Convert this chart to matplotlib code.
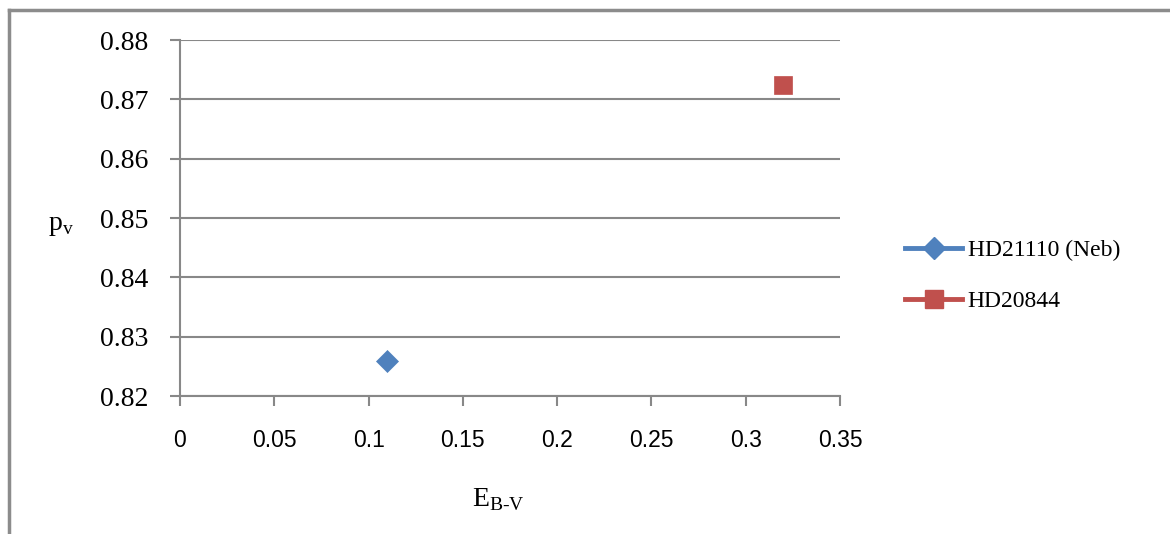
import matplotlib
matplotlib.use('Agg')
import matplotlib.pyplot as plt
from matplotlib.lines import Line2D

# reddening vs polarisation efficiency for the two stars
names = ['HD21110 (Neb)', 'HD20844']
ebv = [0.11, 0.32]
pv = [0.8259, 0.8724]
colors = ['#4F81BD', '#C0504D']
markers = ['D', 's']

xticks = [0, 0.05, 0.1, 0.15, 0.2, 0.25, 0.3, 0.35]
yticks = [0.82, 0.83, 0.84, 0.85, 0.86, 0.87, 0.88]

serif = ['Liberation Serif', 'DejaVu Serif']
sans = ['Liberation Sans', 'DejaVu Sans']
grid_col = '#888888'

plt.rcParams['mathtext.fontset'] = 'custom'
plt.rcParams['mathtext.rm'] = 'Liberation Serif'

fig = plt.figure(figsize=(11.7, 5.34), dpi=100)
ax = fig.add_axes([180 / 1170, 138 / 534, 660 / 1170, 356 / 534])

handles = []
for x, y, c, m, n in zip(ebv, pv, colors, markers, names):
    ms = 11 if m == 'D' else 13
    ax.plot([x], [y], marker=m, color=c, markersize=ms, linestyle='none',
            markeredgewidth=0.5, zorder=3)
    handles.append(Line2D([], [], color=c, marker=m, markersize=ms,
                          linewidth=3.5, label=n))

ax.set_xlim(0, 0.35)
ax.set_ylim(0.82, 0.88)
ax.set_xticks(xticks)
ax.set_yticks(yticks)
ax.set_xticklabels([f'{t:g}' for t in xticks], family=sans, fontsize=16.5)
ax.set_yticklabels([f'{t:.2f}' for t in yticks], family=serif, fontsize=20)
ax.grid(axis='y', color=grid_col, linewidth=1.5)
ax.set_axisbelow(True)
for s in ['top', 'right']:
    ax.spines[s].set_visible(False)
for s in ['left', 'bottom']:
    ax.spines[s].set_color(grid_col)
    ax.spines[s].set_linewidth(1.5)
ax.tick_params(axis='both', color=grid_col, width=1.5, length=7)
ax.tick_params(axis='y', pad=16)
ax.tick_params(axis='x', pad=17)

fig.text(48 / 1170, 1 - 226 / 534, r'p$_{\rm v}$', family=serif, fontsize=20,
         ha='left', va='center')
fig.text(498 / 1170, 1 - 500 / 534, r'E$_{\rm B\text{-}V}$', family=serif,
         fontsize=20, ha='center', va='center')

fig.legend(handles=handles, loc='center left',
           bbox_to_anchor=(884 / 1170, 1 - 276 / 534), frameon=False,
           prop={'family': serif, 'size': 17}, handlelength=2.4,
           handletextpad=0.25, labelspacing=1.25)

# chart area frame (top and left edges)
fig.add_artist(Line2D([9 / 1170, 9 / 1170], [0, 1 - 10 / 534],
                      color='#8c8c8c', linewidth=2.5))
fig.add_artist(Line2D([9 / 1170, 1], [1 - 10 / 534, 1 - 10 / 534],
                      color='#8c8c8c', linewidth=2.5))

fig.savefig('out.png', dpi=100)
